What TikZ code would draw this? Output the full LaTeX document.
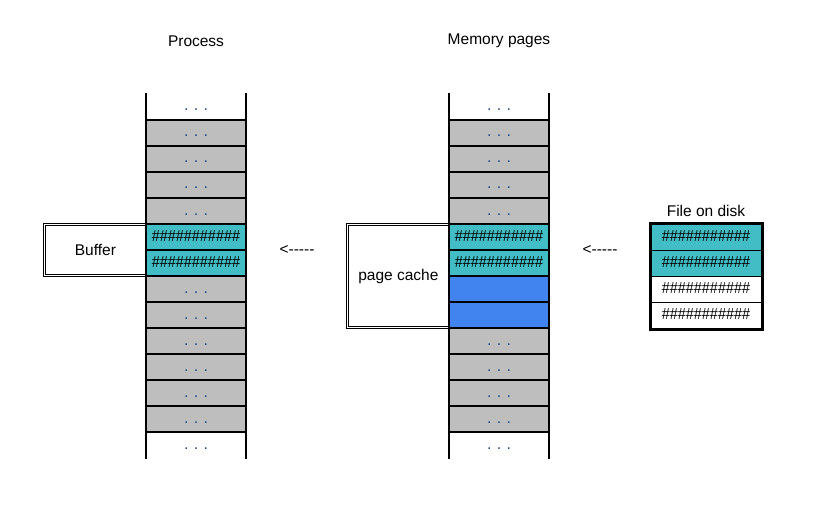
\documentclass[tikz,border=0pt]{standalone}
\usepackage{fontspec}
\usepackage{graphicx}
\setmainfont{Liberation Sans}
\definecolor{tealc}{RGB}{67,189,197}
\definecolor{bluec}{RGB}{65,132,240}
\definecolor{grayc}{RGB}{190,190,190}
\definecolor{dotc}{RGB}{31,78,140}
\newcommand\dotsrow{{\fontsize{16}{18}\selectfont\color{dotc}.\,\,.\,\,.}}
\newcommand\hashrow{\scalebox{0.9}[1]{\fontsize{16}{18}\selectfont\#\#\#\#\#\#\#\#\#\#\#}}
\newcommand\leftarrowtext{<{-}{-}{-}{-}{-}}
\tikzset{
  cell/.style={rectangle, draw=black, line width=2.5pt, minimum width=100pt, minimum height=26pt, inner sep=0pt, text height=10pt, text depth=2pt},
  opencell/.style={cell, draw=none},
  dbox/.style={rectangle, draw=black, double=white, double distance=1.2pt, line width=0.9pt, inner sep=0pt, font=\fontsize{15.5}{18}\selectfont},
  diskcell/.style={rectangle, draw=black, line width=1pt, minimum width=111pt, minimum height=26pt, inner sep=0pt, text height=10pt, text depth=2pt},
  title/.style={font=\fontsize{15.5}{18}\selectfont},
  colline/.style={line width=2.5pt}
}
\begin{document}
\begin{tikzpicture}[x=1pt,y=-1pt]
\useasboundingbox (0,0) rectangle (819,505);
% titles
\node[title] (tproc) at (196,41) {Process};
\node[title] (tmem) at (499,41) {Memory pages};
% boxes on the left of columns
\node[dbox, minimum width=101.2pt, minimum height=51pt] (buf) at (95.4,250) {Buffer};
\node[dbox, minimum width=101.2pt, minimum height=102.7pt] (pc) at (398.4,276.2) {page cache};
% Process column
\foreach \k/\c/\t in {1/grayc/\dotsrow,2/grayc/\dotsrow,3/grayc/\dotsrow,4/grayc/\dotsrow,5/tealc/\hashrow,6/tealc/\hashrow,7/grayc/\dotsrow,8/grayc/\dotsrow,9/grayc/\dotsrow,10/grayc/\dotsrow,11/grayc/\dotsrow,12/grayc/\dotsrow}
  \node[cell, fill=\c] (p\k) at (196,{107+26*\k}) {\t};
\node[opencell] (p0) at (196,107) {\dotsrow};
\node[opencell] (p13) at (196,445) {\dotsrow};
\coordinate (ptl) at (146,93); \coordinate (pbl) at (146,459);
\coordinate (ptr) at (246,93); \coordinate (pbr) at (246,459);
\draw[colline] (ptl) -- (pbl);
\draw[colline] (ptr) -- (pbr);
% Memory column
\foreach \k/\c/\t in {1/grayc/\dotsrow,2/grayc/\dotsrow,3/grayc/\dotsrow,4/grayc/\dotsrow,5/tealc/\hashrow,6/tealc/\hashrow,7/bluec/{},8/bluec/{},9/grayc/\dotsrow,10/grayc/\dotsrow,11/grayc/\dotsrow,12/grayc/\dotsrow}
  \node[cell, fill=\c] (m\k) at (499,{107+26*\k}) {\t};
\node[opencell] (m0) at (499,107) {\dotsrow};
\node[opencell] (m13) at (499,445) {\dotsrow};
\coordinate (mtl) at (449,93); \coordinate (mbl) at (449,459);
\coordinate (mtr) at (549,93); \coordinate (mbr) at (549,459);
\draw[colline] (mtl) -- (mbl);
\draw[colline] (mtr) -- (mbr);
% arrows as text
\node[title] (a1) at (297,250) {\leftarrowtext};
\node[title] (a2) at (600,250) {\leftarrowtext};
% File on disk
\node[title] (tdisk) at (706,211) {File on disk};
\node[diskcell, fill=tealc] (d1) at (706,237.5) {\hashrow};
\node[diskcell, fill=tealc] (d2) at (706,263.5) {\hashrow};
\node[diskcell, fill=white] (d3) at (706,289.5) {\hashrow};
\node[diskcell, fill=white] (d4) at (706,315.5) {\hashrow};
\draw[line width=3pt] (d1.north west) rectangle (d4.south east);
\end{tikzpicture}
\end{document}
